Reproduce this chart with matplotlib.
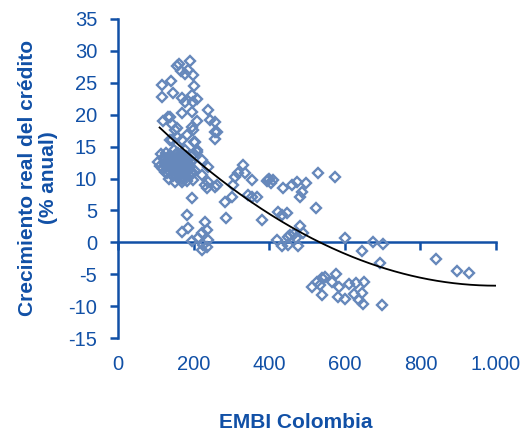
import matplotlib
matplotlib.use("Agg")
import matplotlib.pyplot as plt
import matplotlib.transforms as mtransforms
import numpy as np

plt.rcParams['font.family'] = ['Liberation Sans', 'DejaVu Sans']
plt.rcParams['axes.unicode_minus'] = False

# EMBI Colombia (pb) vs crecimiento real del credito (% anual)
embi = [161, 156, 167, 190, 185, 198, 177, 116, 140, 116, 146, 169, 201, 196, 209,
        198, 177, 238, 119, 138, 143, 169, 196, 209, 243, 256, 257, 257, 196, 198,
        132, 156, 138, 156, 169, 204, 209, 183, 201, 151, 143, 262,
        106, 112, 118, 120, 125, 128, 130, 133, 136, 140, 142, 145, 148, 150, 153,
        156, 158, 160, 163, 166, 168, 171, 174, 176, 179, 182, 185, 188, 191, 194,
        198, 201, 205, 209, 222, 238, 222, 238, 257, 235, 150, 135, 125, 115, 160,
        170, 140, 195,
        122, 128, 134, 138, 144, 147, 152, 155, 159, 162, 165, 168, 172, 175, 178,
        181, 184, 187, 190, 193, 146, 154, 164, 173, 131, 137, 158, 180, 186, 149,
        169, 230, 262, 196, 182, 185, 169, 230, 235, 222, 212, 196, 238, 225, 222,
        235, 283, 286,
        331, 317, 336, 310, 354, 304, 302, 344, 354, 368, 394, 400, 405, 410, 397,
        437, 460, 474, 497, 487, 481, 529, 574, 524, 381, 423, 434, 447, 481, 455,
        450, 465, 470, 420, 434, 450, 476, 489,
        600, 675, 701, 645, 693, 840, 898, 929,
        513, 526, 540, 548, 534, 540, 566, 577, 585, 581, 600, 612, 629, 651, 625,
        645, 637, 648, 698]
credito = [27.9, 27.6, 26.8, 28.4, 27.0, 26.2, 26.4, 24.6, 25.3, 22.8, 23.4, 22.6, 24.5, 23.1, 22.4,
           22.0, 22.0, 20.8, 19.0, 19.6, 18.5, 20.2, 20.4, 19.0, 19.2, 18.9, 17.3, 16.2, 18.0, 17.6,
           19.6, 17.9, 16.0, 16.5, 16.0, 15.7, 14.5, 16.8, 15.7, 17.6, 16.0, 17.3,
           12.6, 12.0, 13.2, 11.5, 12.4, 14.0, 10.8, 12.9, 11.8, 13.6, 10.5, 12.2, 14.4, 11.2, 13.1,
           10.2, 12.5, 14.0, 11.6, 13.4, 10.0, 12.8, 11.0, 14.5, 12.1, 9.6, 13.3, 11.4, 10.4, 12.6,
           9.8, 13.9, 11.2, 14.1, 12.9, 11.8, 10.5, 9.5, 8.7, 8.5, 9.4, 10.0, 11.0, 13.8, 12.9,
           13.9, 12.0, 11.0,
           13.0, 11.9, 13.5, 12.6, 11.3, 13.0, 12.0, 11.7, 13.4, 12.3, 11.1, 12.0, 13.2, 12.4, 10.9,
           12.8, 11.6, 12.2, 11.8, 10.9, 10.4, 13.8, 10.6, 10.2, 11.3, 12.9, 11.0, 13.6, 12.9, 12.7,
           9.5, 9.0, 9.0, 6.9, 4.3, 2.2, 1.6, 3.2, 1.9, 1.4, 0.7, 0.2, 0.4, -0.4, -1.2,
           -0.7, 6.3, 3.8,
           12.1, 10.8, 10.8, 10.3, 9.8, 9.0, 7.1, 7.4, 7.1, 7.1, 9.6, 9.9, 9.3, 9.7, 9.8,
           8.5, 9.0, 9.5, 9.3, 7.9, 7.1, 10.9, 10.2, 5.4, 3.5, 4.7, 4.3, 4.6, 2.6, 1.1,
           0.8, 1.3, 0.6, 0.4, -0.6, -0.4, -0.6, 1.5,
           0.7, 0.05, -0.3, -1.4, -3.3, -2.6, -4.5, -4.8,
           -7.0, -6.2, -5.6, -5.4, -6.7, -8.2, -6.3, -5.0, -7.0, -8.6, -8.9, -6.5, -6.4, -6.2, -8.1,
           -7.9, -9.0, -9.7, -9.8]

# polynomial trend (2nd order)
trend_coef = [3.13e-5, -0.0626, 24.5]
trend_range = [110, 1000]

xticks = [0, 200, 400, 600, 800, 1000]
xticklabels = ["0", "200", "400", "600", "800", "1.000"]
yticks = list(range(-15, 40, 5))

blue = '#1150A6'
marker_col = '#6688BB'

fig = plt.figure(figsize=(5.31, 4.32), dpi=100)
ax = fig.add_axes([118 / 531, 1 - 338 / 432, 378 / 531, 319 / 432])

ax.plot(embi, credito, linestyle='none', marker='D', ms=4.6, mew=1.7,
        mfc='none', mec=marker_col, zorder=3)

xt = np.linspace(trend_range[0], trend_range[1], 200)
ax.plot(xt, np.polyval(trend_coef, xt), color='black', lw=1.3, zorder=4)

ax.set_xlim(0, 1000)
ax.set_ylim(-15, 35)
ax.spines['top'].set_visible(False)
ax.spines['right'].set_visible(False)
ax.spines['bottom'].set_position(('data', 0))
for s in ('left', 'bottom'):
    ax.spines[s].set_color(blue)
    ax.spines[s].set_linewidth(1.8)

ax.set_yticks(yticks)
ax.set_xticks(xticks)
ax.tick_params(axis='both', direction='out', length=6, width=1.8, color=blue)
ax.tick_params(axis='y', labelsize=14.5, labelcolor=blue, pad=9)
ax.tick_params(axis='x', labelbottom=False)

trans = mtransforms.blended_transform_factory(ax.transData, ax.transAxes)
for xv, lab in zip(xticks, xticklabels):
    ax.text(xv, -0.082, lab, transform=trans, ha='center', va='center',
            fontsize=14.5, color=blue, clip_on=False)

fig.text(38 / 531, 1 - 178 / 432, "Crecimiento real del crédito\n(% anual)",
         rotation=90, ha='center', va='center', multialignment='center',
         fontsize=15, fontweight='bold', color=blue, linespacing=1.1)
fig.text(296 / 531, 1 - 422 / 432, "EMBI Colombia", ha='center', va='center',
         fontsize=15, fontweight='bold', color=blue)

fig.savefig("out.png", dpi=100)
